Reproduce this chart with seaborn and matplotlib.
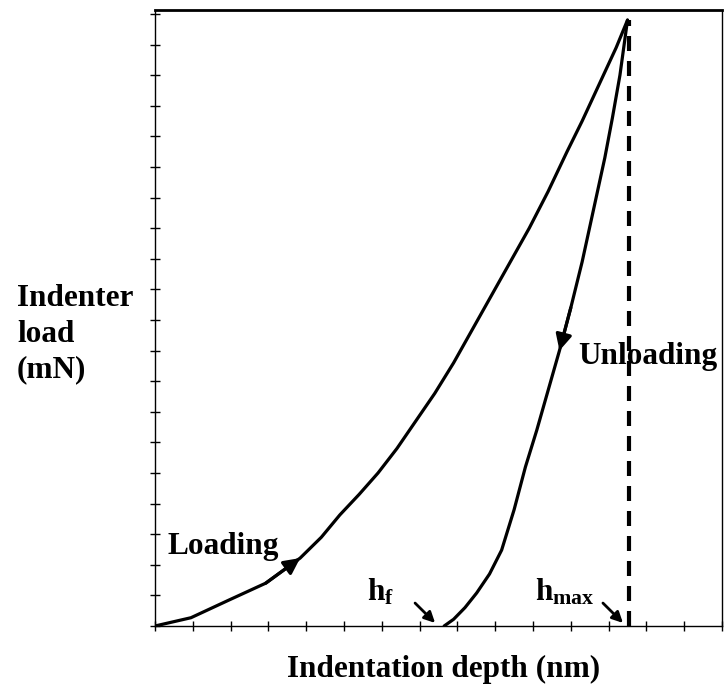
import matplotlib
matplotlib.use("Agg")
import matplotlib.pyplot as plt
import seaborn as sns
import pandas as pd

# ---- data ----
loading_depth = [0.0, 0.95, 1.96, 2.93, 3.84, 4.4, 4.89, 5.4, 5.9, 6.4, 6.9, 7.4, 7.9, 8.4, 8.9,
                 9.4, 9.9, 10.4, 10.9, 11.3, 11.6, 11.9, 12.2, 12.5]
loading_load = [0.0, 0.27, 0.85, 1.4, 2.22, 2.9, 3.63, 4.3, 5.0, 5.8, 6.7, 7.6, 8.6, 9.7, 10.8,
                11.9, 13.0, 14.2, 15.5, 16.5, 17.3, 18.1, 18.9, 19.8]
unloading_depth = [12.5, 12.3, 12.1, 11.9, 11.6, 11.3, 11.0, 10.7, 10.4, 10.1, 9.8, 9.5, 9.17,
                   8.85, 8.51, 8.2, 7.9, 7.65]
unloading_load = [19.8, 18.0, 16.6, 15.3, 13.6, 11.9, 10.4, 9.0, 7.7, 6.4, 5.2, 3.8, 2.48,
                  1.7, 1.08, 0.6, 0.22, 0.0]
h_max = 12.55
h_f = 7.65
x_ticks = list(range(0, 16))
y_ticks = list(range(0, 21))

sns.set_theme(style="white")
plt.rcParams["font.family"] = ["Liberation Serif", "DejaVu Serif"]
plt.rcParams["font.weight"] = "bold"
plt.rcParams["text.color"] = "black"
plt.rcParams["mathtext.fontset"] = "custom"
plt.rcParams["mathtext.rm"] = "Liberation Serif:bold"
plt.rcParams["mathtext.bf"] = "Liberation Serif:bold"
plt.rcParams["mathtext.it"] = "Liberation Serif:bold"

fig = plt.figure(figsize=(7.26, 6.95), dpi=100)
ax = fig.add_axes([155/726, 1-626/695, (722-155)/726, (626-10)/695])

df_load = pd.DataFrame({"depth": loading_depth, "load": loading_load})
df_unload = pd.DataFrame({"depth": unloading_depth, "load": unloading_load})
sns.lineplot(data=df_load, x="depth", y="load", sort=False, color="black", lw=2.3, ax=ax)
sns.lineplot(data=df_unload, x="depth", y="load", sort=False, color="black", lw=2.3, ax=ax)
ax.plot([h_max, h_max], [0, loading_load[-1]], color="black", lw=3, dashes=(3.6, 2.4))

ax.set_xlim(0, 15)
ax.set_ylim(0, 20.13)
ax.set_xticks(x_ticks)
ax.set_yticks(y_ticks)
ax.set_xticklabels([])
ax.set_yticklabels([])
ax.set_xlabel("")
ax.set_ylabel("")
ax.tick_params(axis="both", direction="inout", length=7, width=1, color="black",
               bottom=True, left=True)
for s in ["left", "bottom", "right"]:
    ax.spines[s].set_color("black")
    ax.spines[s].set_linewidth(1.0)
ax.spines["top"].set_color("black")
ax.spines["top"].set_linewidth(2.0)

# arrow heads on the curves, pointing along the curve direction
def head(xs, ys, i, frac):
    x0, y0 = xs[i], ys[i]
    x1, y1 = xs[i+1], ys[i+1]
    tip = (x0 + (x1-x0)*frac, y0 + (y1-y0)*frac)
    ax.annotate("", xy=tip, xytext=(x0, y0),
                arrowprops=dict(arrowstyle="-|>", color="black", lw=2.3,
                                mutation_scale=24, shrinkA=0, shrinkB=0))

head(loading_depth, loading_load, 3, 1.0)
head(unloading_depth, unloading_load, 6, 1.0)

fs = 22.5
ax.text(0.34, 2.6, "Loading", fontsize=fs, fontweight="bold", ha="left", va="center", color="black")
ax.text(11.2, 8.8, "Unloading", fontsize=fs, fontweight="bold", ha="left", va="center", color="black")
ax.text(5.6, 1.1, r"$\mathbf{h_f}$", fontsize=fs, ha="left", va="center", color="black")
ax.text(10.05, 1.1, r"$\mathbf{h_{max}}$", fontsize=fs, ha="left", va="center", color="black")
ax.annotate("", xy=(7.41, 0.1), xytext=(6.88, 0.75),
            arrowprops=dict(arrowstyle="-|>", color="black", lw=2, mutation_scale=16,
                            shrinkA=0, shrinkB=0))
ax.annotate("", xy=(12.38, 0.1), xytext=(11.85, 0.75),
            arrowprops=dict(arrowstyle="-|>", color="black", lw=2, mutation_scale=16,
                            shrinkA=0, shrinkB=0))

fig.text(444/726, 1-655/695, "Indentation depth (nm)", fontsize=fs, fontweight="bold",
         ha="center", va="top", color="black")
fig.text(17/726, 1-334/695, "Indenter\nload\n(mN)", fontsize=fs, fontweight="bold",
         ha="left", va="center", linespacing=1.3, color="black")

fig.savefig("out.png", dpi=100)
